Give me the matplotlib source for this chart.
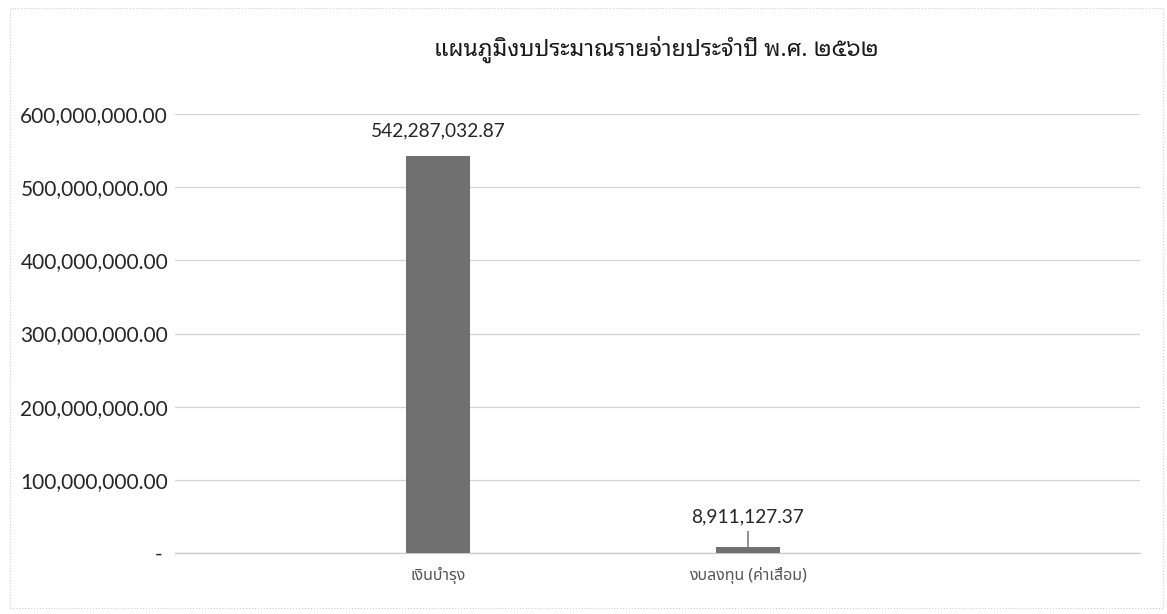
import matplotlib
matplotlib.use('Agg')
import matplotlib.pyplot as plt
from matplotlib.patches import Rectangle
from matplotlib.ticker import FuncFormatter

# ข้อมูล
categorias = ['เงินบำรุง', 'งบลงทุน (ค่าเสื่อม)']
valores = [542287032.87, 8911127.37]
ticks_y = [0, 100000000, 200000000, 300000000, 400000000, 500000000, 600000000]
titulo = 'แผนภูมิงบประมาณรายจ่ายประจำปี พ.ศ. ๒๕๖๒'

fuente_num = ['Lato', 'DejaVu Sans']
fuente_thai = ['Noto Sans Thai', 'DejaVu Sans']

fig = plt.figure(figsize=(11.67, 6.14), dpi=100)
ax = fig.add_axes([0.15, 0.0993, 0.827, 0.715])

x = list(range(len(categorias)))
barras = ax.bar(x, valores, width=0.205, color='#707070', zorder=3)

ax.set_ylim(0, 600000000)
ax.set_xlim(-0.848, 2.265)
ax.set_yticks(ticks_y)


def formato(v, pos):
    if v == 0:
        return '- '
    return f'{v:,.2f}'


ax.yaxis.set_major_formatter(FuncFormatter(formato))
ax.grid(axis='y', color='#d4d4d4', linewidth=0.9, zorder=0)
for lado in ['top', 'right', 'left']:
    ax.spines[lado].set_visible(False)
ax.spines['bottom'].set_color('#c8c8c8')
ax.spines['bottom'].set_linewidth(0.9)
ax.tick_params(axis='both', length=0)
ax.tick_params(axis='y', pad=5, labelcolor='#262626')
ax.tick_params(axis='x', pad=10, labelcolor='#555555')
for t in ax.get_yticklabels():
    t.set_family(fuente_num)
    t.set_fontsize(15)
ax.set_xticks(x)
ax.set_xticklabels(categorias, family=fuente_thai, fontsize=11.5)

# etiquetas de los valores
ax.annotate(f'{valores[0]:,.2f}', xy=(x[0], valores[0]), xytext=(0, 18),
            textcoords='offset points', ha='center', va='center',
            family=fuente_num, fontsize=13.8, color='#262626')
ax.annotate(f'{valores[1]:,.2f}', xy=(x[1], valores[1]), xytext=(0, 21),
            textcoords='offset points', ha='center', va='center',
            family=fuente_num, fontsize=13.8, color='#262626',
            arrowprops=dict(arrowstyle='-', color='#555555', lw=0.9,
                            shrinkA=2, shrinkB=0))

fig.text(0.562, 0.919, titulo, ha='center', va='center', fontsize=16.7,
         fontweight='bold', family=['Noto Sans Thai Looped', 'DejaVu Sans'],
         color='#1a1a1a')

# borde del grafico
fig.patches.append(Rectangle((10 / 1167, 6 / 614), 1153 / 1167, 600 / 614,
                             transform=fig.transFigure, fill=False,
                             edgecolor='#cfcfcf', linewidth=0.8, linestyle=':'))

fig.savefig('out.png')
